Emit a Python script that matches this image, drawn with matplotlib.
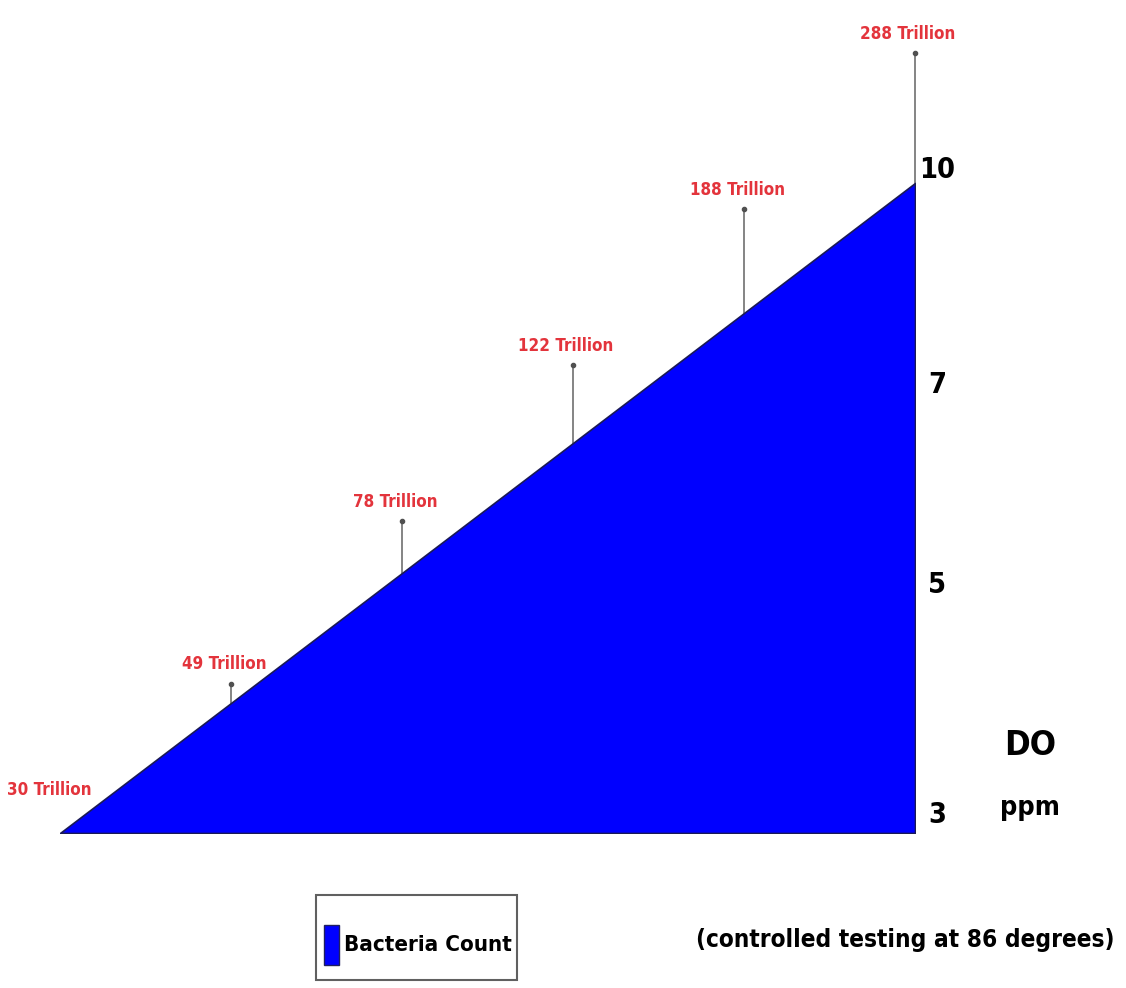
import matplotlib
matplotlib.use("Agg")
import matplotlib.pyplot as plt
from matplotlib.patches import Rectangle

# datos
posiciones = [0, 1, 2, 3, 4, 5]
bacterias = [0, 2, 4, 6, 8, 10]          # altura del area azul
etiquetas = ["30 Trillion", "49 Trillion", "78 Trillion",
             "122 Trillion", "188 Trillion", "288 Trillion"]
alto_etiqueta = [0.66, 2.3, 4.8, 7.2, 9.6, 12.0]   # donde acaba cada linea guia
do_pos = [0.28, 3.82, 6.9, 10.2]
do_labels = ["3", "5", "7", "10"]

fuente = ["DejaVu Sans"]
rojo = "#e3343c"

fig = plt.figure(figsize=(11.26, 9.88), dpi=100)
W, H = 1126, 988
ax = fig.add_axes([60 / W, (H - 833) / H, (915 - 60) / W, 833 / H])
ax.set_xlim(0, 5)
ax.set_ylim(0, 833 / 65)
ax.axis("off")

ax.fill_between(posiciones, 0, bacterias, color="#0000ff",
                edgecolor="#1a1a55", linewidth=1.2, zorder=2)

def texto(obj, *args, **kw):
    return obj.text(*args, fontweight="bold", family=fuente,
                    fontstretch="condensed", clip_on=False, **kw)

def ajusta(textos, ancho):
    # ajusta el tamaño de letra para que el primer texto mida 'ancho' px
    r = fig.canvas.get_renderer()
    w = textos[0].get_window_extent(r).width
    for t in textos:
        t.set_fontsize(t.get_fontsize() * ancho / w)

# lineas guia y etiquetas rojas
rojas = []
for i in range(len(posiciones)):
    x = posiciones[i]
    if i == 0:
        rojas.append(texto(ax, x - 0.06, alto_etiqueta[i], etiquetas[i],
                           color=rojo, fontsize=15, ha="center", va="center"))
        continue
    ax.plot([x, x], [bacterias[i], alto_etiqueta[i]], color="#707070",
            lw=1.2, zorder=1, clip_on=False)
    ax.plot([x], [alto_etiqueta[i]], marker="o", ms=3, color="#505050",
            clip_on=False)
    rojas.append(texto(ax, x - 0.04, alto_etiqueta[i] + 0.3, etiquetas[i],
                       color=rojo, fontsize=15, ha="center", va="center"))
ajusta(rojas[::-1], 96)

# eje DO a la derecha
digitos = []
for p, l in zip(do_pos[::-1], do_labels[::-1]):
    digitos.append(texto(ax, 5.13, p, l, fontsize=28, ha="center", va="center"))
ajusta(digitos, 36)

do_t = texto(fig, 1030 / W, 1 - 745 / H, "DO", fontsize=28,
             ha="center", va="center")
ajusta([do_t], 52)
ppm_t = texto(fig, 1030 / W, 1 - 808 / H, "ppm", fontsize=28,
              ha="center", va="center")
ajusta([ppm_t], 60)

# leyenda
fig.patches.append(Rectangle((316 / W, 1 - 980 / H), 201 / W, 85 / H,
                             transform=fig.transFigure, fill=False,
                             edgecolor="#606060", lw=1.5))
fig.patches.append(Rectangle((324 / W, 1 - 965 / H), 15 / W, 40 / H,
                             transform=fig.transFigure, facecolor="#0000ff",
                             edgecolor="#202060", lw=1))
leyenda = texto(fig, 344 / W, 1 - 945 / H, "Bacteria Count", fontsize=28,
                ha="left", va="center")
ajusta([leyenda], 168)

nota = texto(fig, 905 / W, 1 - 940 / H, "(controlled testing at 86 degrees)",
             fontsize=28, ha="center", va="center")
ajusta([nota], 418)

fig.savefig("out.png", dpi=100)
